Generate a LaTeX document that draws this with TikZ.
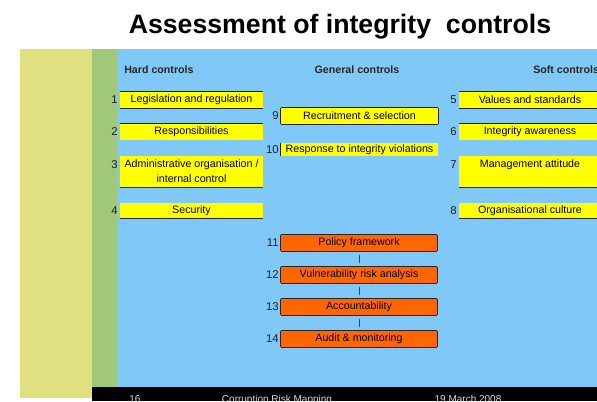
\documentclass[tikz,border=0pt]{standalone}
\usepackage{fontspec}
\setmainfont{Liberation Sans}
\definecolor{panelyellow}{RGB}{224,224,128}
\definecolor{panelgreen}{RGB}{160,200,120}
\definecolor{panelblue}{RGB}{128,200,248}
\definecolor{boxyellow}{RGB}{255,255,0}
\definecolor{boxorange}{RGB}{255,102,0}
\definecolor{numgray}{RGB}{30,30,40}
\definecolor{linkgray}{RGB}{60,70,90}
\begin{document}
\begin{tikzpicture}[x=0.75pt,y=-0.75pt,
  box/.style={inner sep=0pt, font=\fontsize{8}{11.25}\selectfont, align=center, text=black},
  ybox/.style={box, fill=boxyellow},
  obox/.style={box, fill=boxorange},
  num/.style={inner sep=0pt, font=\fontsize{8.5}{9.5}\selectfont, text=numgray, anchor=east},
  hdr/.style={inner sep=0pt, font=\bfseries\fontsize{8}{9.5}\selectfont, text=black!85},
  edgeline/.style={line width=1.1pt, draw=black!85},
  thinedge/.style={line width=0.6pt, draw=black!85},
  link/.style={draw=linkgray, line width=0.6pt, shorten >=3pt, shorten <=3pt},
  foot/.style={inner sep=0pt, anchor=north, font=\fontsize{7.5}{9}\selectfont, text=white!85!black}
]
\useasboundingbox (0,0) rectangle (597,401);
\clip (0,0) rectangle (597,401);
% background panels
\fill[panelyellow] (20,49) rectangle (92,398);
\fill[panelgreen] (92,49) rectangle (117,387);
\fill[panelblue] (117,49) rectangle (597,387);
\fill[black] (92,387) rectangle (597,401);

% title
\node[anchor=base, inner sep=0pt, font=\bfseries\fontsize{20}{24}\selectfont] (title) at (340,33) {Assessment of integrity\ \ controls};

% column headers
\node[hdr, anchor=west] (hhard) at (124,70) {Hard controls};
\node[hdr] (hgen) at (357,70) {General controls};
\node[hdr, anchor=west] (hsoft) at (533,70) {Soft controls};

% hard controls
\node[ybox, minimum width=107.25pt, minimum height=12pt] (b1) at (191.5,100) {Legislation and regulation};
\node[ybox, minimum width=107.25pt, minimum height=12pt] (b2) at (191.5,132) {Responsibilities};
\node[ybox, minimum width=107.25pt, minimum height=23.25pt] (b3) at (191.5,171.5) {Administrative organisation /\\ internal control};
\node[ybox, minimum width=107.25pt, minimum height=11.25pt] (b4) at (191.5,210.5) {Security};
\draw[edgeline] (b1.north west) -- (b1.north east);
\draw[edgeline] (b1.south west) -- (b1.south east);
\draw[edgeline] (b2.north west) -- (b2.north east);
\draw[edgeline] (b3.south west) -- (b3.south east);
\draw[edgeline] (b4.south west) -- (b4.south east);
\node[num] (n1) at (118,100) {1};
\node[num] (n2) at (118,132) {2};
\node[num] (n3) at (118,165) {3};
\node[num] (n4) at (118,210.5) {4};

% soft controls
\node[ybox, minimum width=106.5pt, minimum height=12pt] (b5) at (530,100) {Values and standards};
\node[ybox, minimum width=106.5pt, minimum height=12pt] (b6) at (530,132) {Integrity awareness};
\node[ybox, minimum width=106.5pt, minimum height=23.25pt] (b7) at (530,171.5) {Management attitude\\ ~};
\node[ybox, minimum width=106.5pt, minimum height=11.25pt] (b8) at (530,210.5) {Organisational culture};
\draw[edgeline] (b5.north west) -- (b5.north east);
\draw[edgeline] (b5.south west) -- (b5.south east);
\draw[edgeline] (b6.north west) -- (b6.north east);
\draw[edgeline] (b7.south west) -- (b7.south east);
\draw[edgeline] (b8.south west) -- (b8.south east);
\node[num] (n5) at (457,100) {5};
\node[num] (n6) at (457,132) {6};
\node[num] (n7) at (457,165) {7};
\node[num] (n8) at (457,210.5) {8};

% general controls
\node[ybox, minimum width=117.75pt, minimum height=12pt] (b9) at (359.5,116) {Recruitment \& selection};
\node[ybox, minimum width=117.75pt, minimum height=9.75pt] (b10) at (359.5,149.5) {Response to integrity violations};
\draw[edgeline] (b9.north west) -- (b9.north east);
\draw[edgeline] (b9.south west) -- (b9.south east);
\draw[edgeline] (b9.north west) -- (b9.south west);
\draw[thinedge] (b9.north east) -- (b9.south east);
\draw[edgeline] (b10.north west) -- (b10.south west);
\node[num] (n9) at (279,116) {9};
\node[num] (n10) at (279,149.5) {10};

\node[obox, minimum width=117pt, minimum height=12pt] (b11) at (359,243) {Policy framework};
\node[obox, minimum width=117pt, minimum height=12pt] (b12) at (359,275) {Vulnerability risk analysis};
\node[obox, minimum width=117pt, minimum height=12pt] (b13) at (359,307) {Accountability};
\node[obox, minimum width=117pt, minimum height=12pt] (b14) at (359,339) {Audit \& monitoring};
\foreach \b in {b11,b12,b13,b14}{
  \draw[edgeline] (\b.north west) -- (\b.north east);
  \draw[edgeline] (\b.south west) -- (\b.south east);
  \draw[edgeline] (\b.north west) -- (\b.south west);
  \draw[thinedge] (\b.north east) -- (\b.south east);
}
\node[num] (n11) at (279,243) {11};
\node[num] (n12) at (279,275) {12};
\node[num] (n13) at (279,307) {13};
\node[num] (n14) at (279,339) {14};
\draw[link] (b11.south) -- (b12.north);
\draw[link] (b12.south) -- (b13.north);
\draw[link] (b13.south) -- (b14.north);

% footer
\node[foot] (f1) at (135,395) {16};
\node[foot] (f2) at (277,395) {Corruption Risk Mapping};
\node[foot] (f3) at (468,395) {19 March 2008};
\end{tikzpicture}
\end{document}
